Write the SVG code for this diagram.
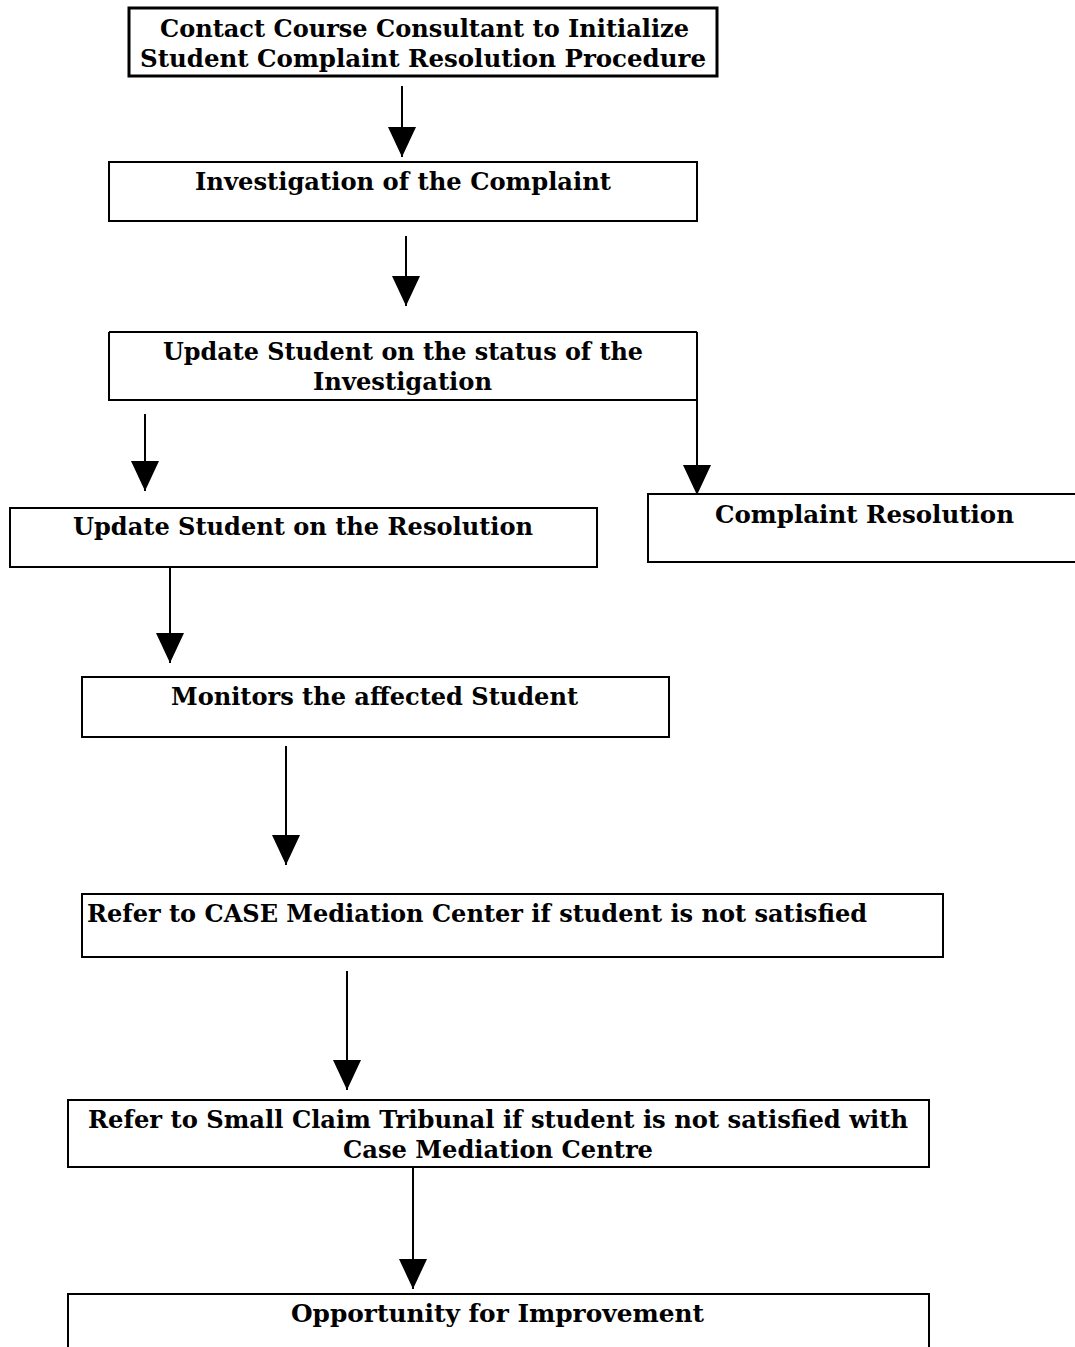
<svg xmlns="http://www.w3.org/2000/svg" width="1075" height="1347" viewBox="0 0 1075 1347">
<style>
.box{fill:none;stroke:#000;stroke-width:2}
.t{font-family:"DejaVu Serif","Liberation Serif",serif;font-weight:bold;font-size:24px;fill:#000}
.c{stroke:#000;stroke-width:2;fill:none}
</style>
<defs>
<marker id="ah" viewBox="0 0 30 28" refX="30" refY="14" markerWidth="30" markerHeight="28" markerUnits="userSpaceOnUse" orient="auto">
<path d="M0,0 L30,14 L0,28 Z" fill="#000"/>
</marker>
</defs>
<rect width="1075" height="1347" fill="#fff"/>
<g id="n1">
<rect class="box" x="129" y="8" width="588" height="68" style="stroke-width:3"/>
<text class="t" x="160" y="37" textLength="529" lengthAdjust="spacingAndGlyphs">Contact Course Consultant to Initialize</text>
<text class="t" x="140" y="67" textLength="566" lengthAdjust="spacingAndGlyphs">Student Complaint Resolution Procedure</text>
</g>
<g id="n2">
<rect class="box" x="109" y="162" width="588" height="59"/>
<text class="t" x="195" y="190" textLength="416" lengthAdjust="spacingAndGlyphs">Investigation of the Complaint</text>
</g>
<g id="n3">
<path class="box" d="M109,332 H697 M109,332 V400 H697"/>
<text class="t" x="163" y="360" textLength="480" lengthAdjust="spacingAndGlyphs">Update Student on the status of the</text>
<text class="t" x="313" y="390" textLength="179" lengthAdjust="spacingAndGlyphs">Investigation</text>
</g>
<g id="n4">
<rect class="box" x="10" y="508" width="587" height="59"/>
<text class="t" x="73" y="535" textLength="460" lengthAdjust="spacingAndGlyphs">Update Student on the Resolution</text>
</g>
<g id="n5">
<path class="box" d="M1077,494 H648 V562 H1077"/>
<text class="t" x="715" y="523" textLength="299" lengthAdjust="spacingAndGlyphs">Complaint Resolution</text>
</g>
<g id="n6">
<rect class="box" x="82" y="677" width="587" height="60"/>
<text class="t" x="171" y="705" textLength="407" lengthAdjust="spacingAndGlyphs">Monitors the affected Student</text>
</g>
<g id="n7">
<rect class="box" x="82" y="894" width="861" height="63"/>
<text class="t" x="87" y="922" textLength="780" lengthAdjust="spacingAndGlyphs">Refer to CASE Mediation Center if student is not satisfied</text>
</g>
<g id="n8">
<rect class="box" x="68" y="1100" width="861" height="67"/>
<text class="t" x="88" y="1128" textLength="820" lengthAdjust="spacingAndGlyphs">Refer to Small Claim Tribunal if student is not satisfied with</text>
<text class="t" x="343" y="1158" textLength="310" lengthAdjust="spacingAndGlyphs">Case Mediation Centre</text>
</g>
<g id="n9">
<path class="box" d="M68,1349 V1294 H929 V1349"/>
<text class="t" x="291" y="1322" textLength="413" lengthAdjust="spacingAndGlyphs">Opportunity for Improvement</text>
</g>
<g id="connectors">
<line class="c" x1="402" y1="86" x2="402" y2="157" marker-end="url(#ah)"/>
<line class="c" x1="406" y1="236" x2="406" y2="306" marker-end="url(#ah)"/>
<line class="c" x1="697" y1="332" x2="697" y2="495" marker-end="url(#ah)"/>
<line class="c" x1="145" y1="414" x2="145" y2="491" marker-end="url(#ah)"/>
<line class="c" x1="170" y1="567" x2="170" y2="663" marker-end="url(#ah)"/>
<line class="c" x1="286" y1="746" x2="286" y2="865" marker-end="url(#ah)"/>
<line class="c" x1="347" y1="971" x2="347" y2="1090" marker-end="url(#ah)"/>
<line class="c" x1="413" y1="1167" x2="413" y2="1289" marker-end="url(#ah)"/>
</g>
</svg>
